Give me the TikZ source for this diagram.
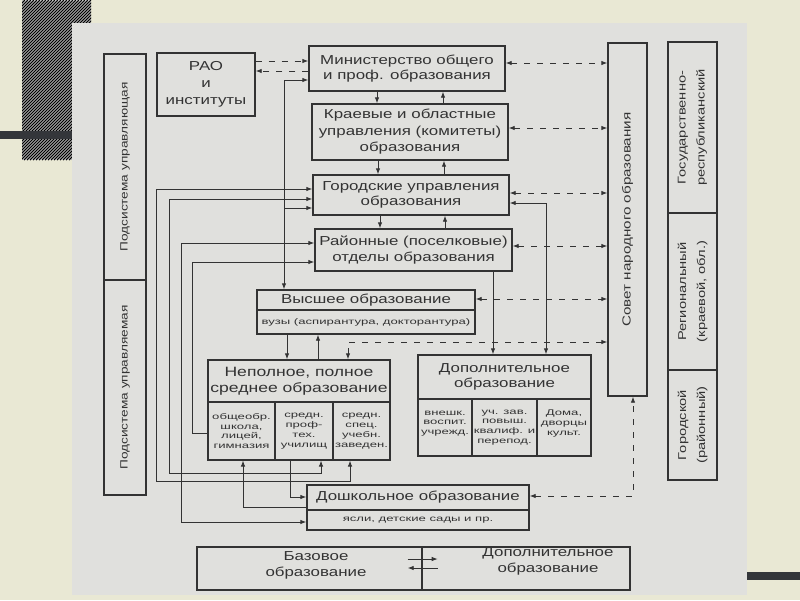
\documentclass[tikz,border=0pt]{standalone}
\usepackage{fontspec}
\setmainfont{Liberation Sans}[FakeStretch=1.3]
\newfontfamily\smallwide{Liberation Sans}[FakeStretch=1.6]
\usetikzlibrary{arrows.meta,calc}
\definecolor{bgbeige}{HTML}{E9E8D4}
\definecolor{pagegray}{HTML}{E0E0DD}
\definecolor{ink}{HTML}{333333}
\definecolor{barcol}{HTML}{34363A}
\begin{document}
\begin{tikzpicture}[x=1pt,y=-1pt,
  >={Latex[length=6pt,width=4.5pt]},
  box/.style={draw=ink,line width=1.4pt,rectangle,inner sep=0pt,align=center,text=ink,
    font=\fontsize{13}{15.5}\selectfont},
  cell/.style={draw=ink,line width=1.1pt,rectangle,inner sep=0pt,align=center,text=ink,
    font=\smallwide\fontsize{8.2}{9.8}\selectfont},
  lbl/.style={inner sep=0pt,align=center,text=ink,font=\fontsize{13}{16}\selectfont},
  conn/.style={draw=ink,line width=0.9pt},
  dconn/.style={conn,dash pattern=on 6pt off 7pt}]
% background
\fill[bgbeige] (0,0) rectangle (800,600);
\useasboundingbox (0,0) rectangle (800,600);
\begin{scope}
  \clip (22,0) rectangle (91,160);
  \fill[white] (22,0) rectangle (91,160);
  \foreach \i in {-150,-147,...,93} \draw[black,line width=1.2pt] (\i,160) -- (\i+160,0);
\end{scope}
\fill[barcol] (0,131) rectangle (80,139);
\fill[barcol] (700,572) rectangle (800,580);
\fill[pagegray] (72,23) rectangle (747,595);

% left column
\node[box,rotate=90,minimum width=226,minimum height=42,font=\fontsize{10.5}{12}\selectfont] (lcolA) at (125,167) {Подсистема управляющая};
\node[box,rotate=90,minimum width=215,minimum height=42,font=\fontsize{10.5}{12}\selectfont] (lcolB) at (125,387.5) {Подсистема управляемая};

% right columns
\node[box,rotate=90,minimum width=353,minimum height=39,font=\fontsize{11.7}{14}\selectfont] (sov) at (627.5,219.5) {Совет народного образования};
\node[box,rotate=90,minimum width=171,minimum height=49,font=\fontsize{11.3}{19}\selectfont] (rc1) at (692.5,127.5) {Государственно-\\республиканский};
\node[box,rotate=90,minimum width=157,minimum height=49,font=\fontsize{11.3}{19}\selectfont] (rc2) at (692.5,291.5) {Региональный\\(краевой, обл.)};
\node[box,rotate=90,minimum width=110,minimum height=49,font=\fontsize{11.3}{19}\selectfont] (rc3) at (692.5,425) {Городской\\(районный)};

% management boxes
\node[box,minimum width=98,minimum height=63,font=\fontsize{13}{17}\selectfont] (rao) at (206,84.5) {РАО\\и\\институты};
\node[box,minimum width=196,minimum height=45] (min) at (407,68.5) {Министерство общего\\и проф. образования};
\node[box,minimum width=196,minimum height=56,font=\fontsize{13}{16.5}\selectfont] (kra) at (410,132) {Краевые и областные\\управления (комитеты)\\образования};
\node[box,minimum width=196,minimum height=40] (gor) at (411,195) {Городские управления\\образования};
\node[box,minimum width=197,minimum height=42] (ray) at (413.5,250) {Районные (поселковые)\\отделы образования};

% Высшее
\node[box,minimum width=218,minimum height=20] (vysT) at (366,300) {Высшее образование};
\node[box,minimum width=218,minimum height=24,font=\smallwide\fontsize{8.2}{10}\selectfont] (vysB) at (366,322) {вузы (аспирантура, докторантура)};

% Неполное
\node[box,minimum width=182,minimum height=42,font=\fontsize{13.5}{16.5}\selectfont] (nepT) at (299,381) {Неполное, полное\\среднее образование};
\node[cell,minimum width=67,minimum height=58] (nep1) at (241.5,431) {общеобр.\\школа,\\лицей,\\гимназия};
\node[cell,minimum width=58,minimum height=58] (nep2) at (304,431) {средн.\\проф-\\тех.\\училищ};
\node[cell,minimum width=57,minimum height=58] (nep3) at (361.5,431) {средн.\\спец.\\учебн.\\заведен.};
\draw[ink,line width=1.4pt] (nepT.north west) rectangle (nep3.south east);

% Дополнительное
\node[box,minimum width=173,minimum height=44] (dopT) at (504.5,377) {Дополнительное\\образование};
\node[cell,minimum width=54,minimum height=57] (dop1) at (445,427.5) {внешк.\\воспит.\\учрежд.\\\mbox{}};
\node[cell,minimum width=65,minimum height=57] (dop2) at (504.5,427.5) {уч. зав.\\повыш.\\квалиф. и\\перепод.};
\node[cell,minimum width=54,minimum height=57] (dop3) at (564,427.5) {Дома,\\дворцы\\культ.\\\mbox{}};
\draw[ink,line width=1.4pt] (dopT.north west) rectangle (dop3.south east);

% Дошкольное
\node[box,minimum width=222,minimum height=25] (doshT) at (418,497.5) {Дошкольное образование};
\node[box,minimum width=222,minimum height=20,font=\smallwide\fontsize{8.2}{10}\selectfont] (doshB) at (418,520) {ясли, детские сады и пр.};

% legend
\node[box,minimum width=225,minimum height=43] (legL) at (309.5,568.5) {};
\node[box,minimum width=208,minimum height=43] (legR) at (526,568.5) {};
\node[lbl] (labL) at (316,565) {Базовое\\образование};
\node[lbl] (labR) at (548,561) {Дополнительное\\образование};
\draw[conn,->] ($(legL.east |- 0,559)+(-15,0)$) -- ($(legL.east |- 0,559)+(15,0)$);
\draw[conn,->] ($(legL.east |- 0,568)+(15,0)$) -- ($(legL.east |- 0,568)+(-15,0)$);

% RAO - Министерство
\draw[dconn,->] (rao.east |- 0,61) -- (min.west |- 0,61);
\draw[dconn,->] (min.west |- 0,71) -- (rao.east |- 0,71);
% Министерство - Высшее, branch to Городские
\draw[conn,<->] (min.west |- 0,80) -| (vysT.north -| 284,0);
\coordinate (br) at (284,208);
\draw[conn,->] (br) -- (gor.west |- br);
% vertical pairs between management levels
\draw[conn,->] (min.south -| 377,0) -- (kra.north -| 377,0);
\draw[conn,->] (kra.north -| 443,0) -- (min.south -| 443,0);
\draw[conn,->] (kra.south -| 378,0) -- (gor.north -| 378,0);
\draw[conn,->] (gor.north -| 444,0) -- (kra.south -| 444,0);
\draw[conn,->] (gor.south -| 380,0) -- (ray.north -| 380,0);
\draw[conn,->] (ray.north -| 445,0) -- (gor.south -| 445,0);
% links to Совет (rotated node: its north anchor is the left side, west is the bottom)
\draw[dconn,<->] (min.east |- 0,63) -- (sov.north |- 0,63);
\draw[dconn,<->] (kra.east |- 0,128) -- (sov.north |- 0,128);
\draw[dconn,<->] (gor.east |- 0,193) -- (sov.north |- 0,193);
\draw[dconn,<->] (ray.east |- 0,246) -- (sov.north |- 0,246);
\draw[dconn,<->] (vysT.east |- 0,299) -- (sov.north |- 0,299);
\draw[dconn,<->] (sov.north |- 0,342) -| (nepT.north -| 348,0);
\draw[dconn,<->] (doshT.east |- 0,496) -| (sov.west -| 633,0);
% to Дополнительное
\draw[conn,<->] (gor.east |- 0,203) -| (dopT.north -| 546,0);
\draw[conn,->] (ray.south -| 493,0) -- (dopT.north -| 493,0);
% Высшее - Неполное
\draw[conn,->] (vysB.south -| 287,0) -- (nepT.north -| 287,0);
\draw[conn,->] (nepT.north -| 318,0) -- (vysB.south -| 318,0);
% Неполное - Дошкольное
\draw[conn,->] (nep2.south -| 290,0) |- (doshT.west |- 0,497);
\draw[conn,->] (doshT.west |- 0,507) -| (nep1.south -| 243,0);
% left lanes
\draw[conn,<->] (gor.west |- 0,189) -| (156,481) -| (nep3.south -| 350,0);
\draw[conn,<->] (gor.west |- 0,199) -| (169,473) -| (nep2.south -| 321,0);
\draw[conn,<->] (ray.west |- 0,243) -| (181,522) -- (doshB.west |- 0,522);
\draw[conn,<-] (ray.west |- 0,262) -| (192,433) -- (nep1.west |- 0,433);
\end{tikzpicture}
\end{document}
